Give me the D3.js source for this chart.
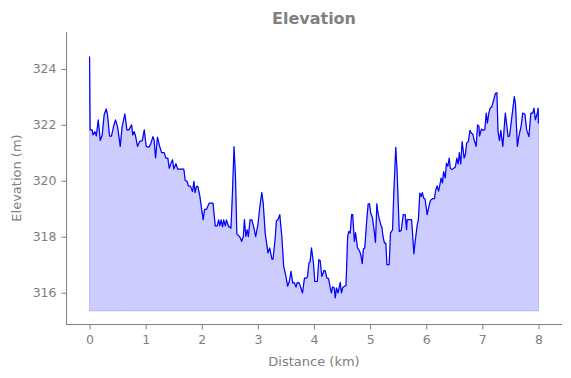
<!DOCTYPE html>
<html>
<head>
<meta charset="utf-8">
<script src="https://d3js.org/d3.v7.min.js"></script>
<style>
    body { margin: 0; background: white; }
    text { font-family: "DejaVu Sans", sans-serif; fill: #808080; }
    .tick line, .domain { stroke: #808080; }
</style>
</head>
<body>
<script>
    // distance along the track (km) and elevation (m)
    var distanceKm = [0, 0.01, 0.047, 0.06, 0.095, 0.12, 0.155, 0.19, 0.225, 0.26, 0.297, 0.32, 0.356, 0.39, 0.43, 0.463, 0.5, 0.547, 0.58, 0.63,
        0.665, 0.7, 0.75, 0.77, 0.795, 0.82, 0.855, 0.89, 0.94, 0.975, 1.01, 1.057, 1.09, 1.13, 1.15, 1.176, 1.21, 1.247, 1.283, 1.33,
        1.36, 1.395, 1.42, 1.455, 1.48, 1.5, 1.54, 1.57, 1.62, 1.68, 1.705, 1.74, 1.76, 1.8, 1.835, 1.86, 1.88, 1.905, 1.93, 1.965,
        2.0, 2.025, 2.05, 2.085, 2.13, 2.2, 2.24, 2.275, 2.3, 2.32, 2.345, 2.37, 2.39, 2.42, 2.44, 2.48, 2.5,
        2.52, 2.545, 2.575, 2.6, 2.625, 2.667, 2.69, 2.71, 2.74, 2.76, 2.785, 2.81, 2.83, 2.86, 2.893, 2.93, 2.96, 3.0, 3.035, 3.07, 3.095,
        3.13, 3.18, 3.21, 3.25, 3.27, 3.31, 3.33, 3.355, 3.39, 3.427, 3.46, 3.5, 3.53, 3.56, 3.59, 3.62, 3.65, 3.68, 3.7, 3.736, 3.77, 3.795, 3.83,
        3.866, 3.884, 3.91, 3.93, 3.955, 3.99, 4.015, 4.06, 4.085, 4.11, 4.14, 4.18, 4.2, 4.23, 4.26, 4.29, 4.31, 4.33, 4.36, 4.38, 4.4, 4.43,
        4.467, 4.49, 4.51, 4.54, 4.57, 4.6, 4.62, 4.645, 4.67, 4.69, 4.72, 4.74, 4.775, 4.81, 4.834, 4.86, 4.88, 4.905, 4.94, 4.966, 4.99,
        5.01, 5.04, 5.07, 5.096, 5.12, 5.14, 5.167, 5.2,
        5.21, 5.23, 5.256, 5.28, 5.3, 5.34, 5.363, 5.4, 5.42, 5.457, 5.48, 5.52, 5.554, 5.59, 5.625, 5.65, 5.66, 5.72, 5.74, 5.78, 5.8, 5.84,
        5.86, 5.886, 5.91, 5.93, 5.956, 5.98, 6.017, 6.05, 6.076, 6.11, 6.147, 6.17, 6.195, 6.22, 6.24, 6.266, 6.29, 6.31, 6.34, 6.36, 6.385,
        6.41, 6.43, 6.456, 6.49,
        6.52, 6.545, 6.57, 6.59, 6.615, 6.64, 6.676, 6.7, 6.72, 6.75, 6.78, 6.806, 6.83, 6.855, 6.89, 6.915, 6.94, 6.95, 6.984, 7.02, 7.045,
        7.07, 7.09, 7.115, 7.14, 7.17, 7.2, 7.234, 7.26, 7.28, 7.305, 7.33, 7.365, 7.41, 7.46, 7.485, 7.52, 7.57, 7.59, 7.625, 7.65, 7.69,
        7.72, 7.76, 7.79, 7.83, 7.865, 7.9, 7.92, 7.946, 7.98, 7.995, 8.0];
    var elevationM = [324.44, 321.82, 321.82, 321.64, 321.76, 321.6, 322.18, 321.44, 321.64, 322.36, 322.57, 322.36, 321.6, 321.6, 321.96, 322.18, 321.92, 321.23, 321.94, 322.39,
        321.82, 321.82, 322.0, 321.64, 321.76, 321.6, 321.23, 321.4, 321.44, 321.82, 321.23, 321.2, 321.32, 321.58, 321.46, 320.82, 321.56, 321.25, 321.01, 321.01,
        320.81, 320.81, 320.45, 320.65, 320.75, 320.42, 320.61, 320.42, 320.42, 320.42, 320.01, 319.98, 319.82, 319.8, 319.62, 319.98, 319.58, 319.8, 319.8, 319.46,
        318.96, 318.61, 318.98, 318.98, 319.2, 319.2, 318.39, 318.39, 318.6, 318.39, 318.6, 318.35, 318.6, 318.39, 318.6, 318.35, 318.35,
        318.3, 319.5, 321.22, 320.2, 318.1, 318.01, 317.95, 317.83, 318.01, 318.61, 318.01, 318.25, 318.0, 318.6, 318.6, 318.31, 318.0, 318.43, 319.08, 319.58, 319.2,
        318.13, 317.42, 317.6, 317.2, 317.2, 318.0, 318.58, 318.6, 318.79, 318.0, 316.94, 316.58, 316.23, 316.4, 316.76, 316.35, 316.36, 316.2, 316.36, 316.35, 316.15, 315.99, 316.52,
        316.52, 316.58, 317.06, 317.1, 317.6, 317.06, 316.4, 316.4, 317.18, 317.15, 316.58, 316.8, 316.78, 316.52, 316.5, 316.17, 315.99, 316.21, 316.17, 315.81, 316.17, 315.99,
        316.37, 315.99, 316.17, 316.23, 316.25, 318.01, 318.19, 318.13, 318.79, 318.79, 317.83, 318.15, 317.6, 317.5, 317.36, 317.04, 317.56, 317.6, 318.6, 319.18, 319.18,
        318.85, 318.7, 318.25, 317.8, 319.18, 318.85, 318.6, 318.37,
        318.35, 318.01, 317.77, 317.77, 317.0, 317.0, 318.13, 318.25, 319.44, 321.2, 320.39, 318.19, 318.22, 318.79, 318.79, 318.25, 318.61, 318.61, 318.6, 317.39, 317.77, 318.43,
        318.6, 319.56, 319.44, 319.58, 319.38, 319.35, 318.79, 319.1, 319.3, 319.36, 319.36, 319.68, 319.82, 319.63, 319.82, 320.1, 319.92, 320.33, 320.1, 320.63, 320.52,
        320.81, 320.45, 320.4, 320.45,
        320.49, 320.81, 320.6, 321.01, 320.6, 321.4, 320.81, 320.96, 321.35, 321.4, 321.8, 321.7, 321.67, 321.46, 321.23, 322.0, 321.95, 321.6, 321.85, 321.8, 321.85,
        322.42, 322.06, 322.42, 322.6, 322.65, 322.87, 323.13, 323.15, 321.76, 321.44, 321.8, 321.23, 322.42, 321.58, 321.6, 322.18, 323.01, 322.77, 321.23, 321.58, 321.94,
        322.42, 322.38, 321.82, 321.58, 322.42, 322.42, 322.6, 322.18, 322.42, 322.6, 322.05];
    var xTicks = [0, 1, 2, 3, 4, 5, 6, 7, 8];
    var yTicks = [316, 318, 320, 322, 324];
    var fillBase = 315.35;

    var width = 571, height = 378;
    // plot box edges in px ("top" is taken by window.top)
    var plotLeft = 66, plotRight = 562, plotTop = 32, plotBottom = 324;

    var svg = d3.select("body").append("svg")
        .attr("width", width).attr("height", height);

    var x = d3.scaleLinear().domain([-0.42, 8.42]).range([plotLeft, plotRight]);
    var y = d3.scaleLinear().domain([314.88, 325.32]).range([plotBottom, plotTop]);

    var n = Math.min(distanceKm.length, elevationM.length);
    var points = d3.range(n).map(function (i) { return [distanceKm[i], elevationM[i]]; });

    // shaded area under the profile
    var area = d3.area()
        .x(function (d) { return x(d[0]); })
        .y0(y(fillBase))
        .y1(function (d) { return y(d[1]); });
    svg.append("path")
        .datum(points)
        .attr("d", area)
        .attr("fill", "blue").attr("fill-opacity", 0.2)
        .attr("stroke", "blue").attr("stroke-opacity", 0.2).attr("stroke-width", 1);

    var line = d3.line()
        .x(function (d) { return x(d[0]); })
        .y(function (d) { return y(d[1]); });
    svg.append("path")
        .datum(points)
        .attr("d", line)
        .attr("fill", "none")
        .attr("stroke", "blue")
        .attr("stroke-width", 1.2)
        .attr("stroke-linejoin", "round");

    // axes, only left and bottom spines
    var xAxis = svg.append("g")
        .attr("transform", "translate(0," + (plotBottom + 0.5) + ")")
        .call(d3.axisBottom(x).tickValues(xTicks).tickSize(5).tickPadding(6).tickFormat(d3.format("d")));
    var yAxis = svg.append("g")
        .attr("transform", "translate(" + (plotLeft + 0.5) + ",0)")
        .call(d3.axisLeft(y).tickValues(yTicks).tickSize(5).tickPadding(5).tickFormat(d3.format("d")));
    xAxis.select(".domain").attr("d", "M" + plotLeft + ",0H" + plotRight);
    yAxis.select(".domain").attr("d", "M0," + plotTop + "V" + plotBottom);
    svg.selectAll(".tick text").style("font-size", "12.5px").style("fill", "#808080");

    svg.append("text")
        .attr("x", (plotLeft + plotRight) / 2).attr("y", 24)
        .attr("text-anchor", "middle")
        .style("font-size", "16px").style("font-weight", "bold")
        .text("Elevation");

    svg.append("text")
        .attr("x", (plotLeft + plotRight) / 2).attr("y", 366)
        .attr("text-anchor", "middle")
        .style("font-size", "13px")
        .text("Distance (km)");

    svg.append("text")
        .attr("transform", "translate(21," + ((plotTop + plotBottom) / 2) + ") rotate(-90)")
        .attr("text-anchor", "middle")
        .style("font-size", "13px")
        .text("Elevation (m)");
</script>
</body>
</html>
